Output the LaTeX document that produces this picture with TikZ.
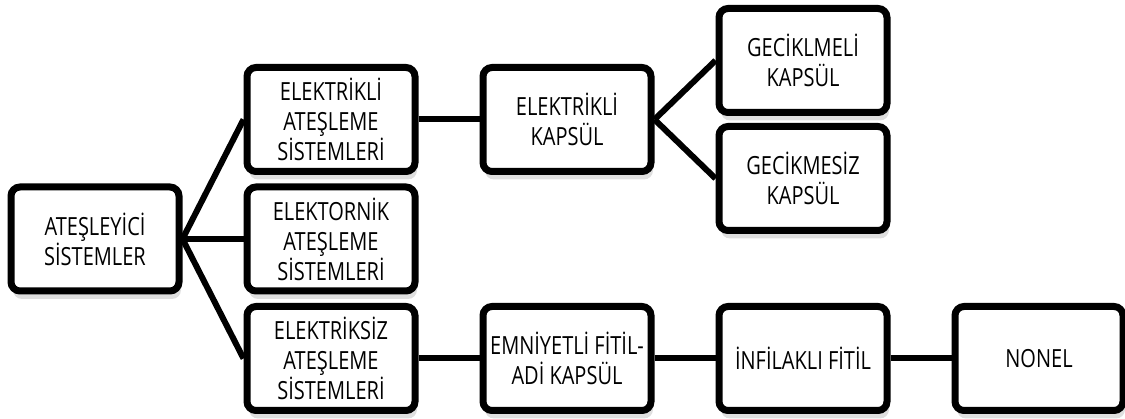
\documentclass[tikz,border=0pt]{standalone}
\usepackage{fontspec}
\setmainfont{Open Sans}[FakeStretch=0.8]
\usetikzlibrary{shadows}

\begin{document}
\begin{tikzpicture}[
  x=1pt, y=1pt,
  grow'=right,
  level distance=236pt,
  level 1/.style={sibling distance=119.5pt},
  level 2/.style={sibling distance=118pt},
  level 3/.style={sibling distance=118pt},
  every node/.style={rectangle, rounded corners=9pt, draw, line width=7pt, fill=white,
    minimum width=168pt, minimum height=104pt, inner sep=2pt, align=center,
    font=\fontsize{25}{30}\selectfont,
    drop shadow={shadow xshift=2pt, shadow yshift=-8pt, opacity=0.25}},
  edge from parent/.style={draw=none},
  link/.style={line width=6pt}
  ]
  \useasboundingbox (0,0) rectangle (1125,-419);
  \node (ates) at (95,-239) {ATEŞLEYİCİ\\SİSTEMLER}
    child {node (elk) {ELEKTRİKLİ\\ATEŞLEME\\SİSTEMLERİ}
      child {node (kapsul) {ELEKTRİKLİ\\KAPSÜL}
        child {node (gecikmeli) {GECİKLMELİ\\KAPSÜL}}
        child {node (gecikmesiz) {GECİKMESİZ\\KAPSÜL}}}}
    child {node (elektornik) {ELEKTORNİK\\ATEŞLEME\\SİSTEMLERİ}}
    child {node (elksiz) {ELEKTRİKSİZ\\ATEŞLEME\\SİSTEMLERİ}
      child {node (emniyet) {EMNİYETLİ FİTİL-\\ADİ KAPSÜL}
        child {node (infilak) {İNFİLAKLI FİTİL}
          child {node (nonel) {NONEL}}}}};
  % connectors
  \draw[link] (ates.east) -- (elk.west);
  \draw[link] (ates.east) -- (elektornik.west);
  \draw[link] (ates.east) -- (elksiz.west);
  \draw[link] (elk.east) -- (kapsul.west);
  \draw[link] (kapsul.east) -- (gecikmeli.west);
  \draw[link] (kapsul.east) -- (gecikmesiz.west);
  \draw[link] (elksiz.east) -- (emniyet.west);
  \draw[link] (emniyet.east) -- (infilak.west);
  \draw[link] (infilak.east) -- (nonel.west);
\end{tikzpicture}
\end{document}
